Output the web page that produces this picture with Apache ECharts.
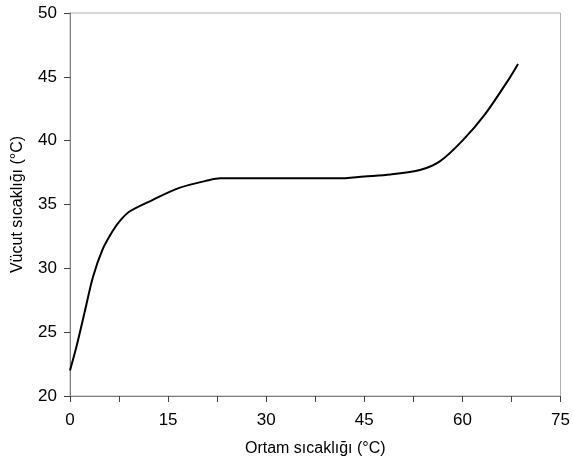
<!DOCTYPE html>
<html><head><meta charset="utf-8">
<script src="https://cdn.jsdelivr.net/npm/echarts@6/dist/echarts.min.js"></script>
<style>html,body{margin:0;padding:0;background:#fff}#c{width:573px;height:464px}</style>
</head><body><div id="c"></div>
<script>
const ambientTemp = [0, 1, 2.3, 3.5, 5, 6.5, 7.6, 9.1, 12.6, 16.7, 21.2, 23, 30, 41, 45, 49, 53.5, 56.6, 60, 63.5, 67.2, 68.5];
const bodyTemp = [22, 23.9, 26.7, 29.3, 31.5, 32.9, 33.7, 34.45, 35.35, 36.3, 36.9, 37.05, 37.05, 37.05, 37.2, 37.35, 37.7, 38.4, 40, 42.1, 44.9, 46];
const xTitle = 'Ortam sıcaklığı (°C)';
const yTitle = 'Vücut sıcaklığı (°C)';

const chart = echarts.init(document.getElementById('c'), null, {renderer: 'canvas'});
const font = 'Liberation Sans, Arial, sans-serif';
chart.setOption({
  animation: false,
  backgroundColor: '#fff',
  grid: {left: 70, right: 8, top: 13, bottom: 68, show: true, borderColor: '#b0b0b0', borderWidth: 1, backgroundColor: 'transparent'},
  xAxis: {
    type: 'value', min: 0, max: 75, interval: 7.5,
    name: xTitle, nameLocation: 'middle', nameGap: 45,
    nameTextStyle: {fontFamily: font, fontSize: 16, color: '#000'},
    axisLine: {lineStyle: {color: '#808080', width: 1}},
    axisTick: {show: true, length: 6, lineStyle: {color: '#404040'}},
    axisLabel: {fontFamily: font, fontSize: 17, color: '#000', margin: 16,
      formatter: v => (Math.abs(v % 15) < 1e-6 ? String(v) : '')},
    splitLine: {show: false}
  },
  yAxis: {
    type: 'value', min: 20, max: 50, interval: 5,
    name: yTitle, nameLocation: 'middle', nameGap: 44,
    nameTextStyle: {fontFamily: font, fontSize: 16, color: '#000'},
    axisLine: {show: true, lineStyle: {color: '#808080', width: 1}},
    axisTick: {show: true, length: 6, lineStyle: {color: '#404040'}},
    axisLabel: {fontFamily: font, fontSize: 17, color: '#000', margin: 13},
    splitLine: {show: false}
  },
  series: [{
    type: 'line',
    data: ambientTemp.map((x, i) => [x, bodyTemp[i]]),
    smooth: 0.3,
    showSymbol: false,
    lineStyle: {color: '#000', width: 2}
  }]
});
</script></body></html>
